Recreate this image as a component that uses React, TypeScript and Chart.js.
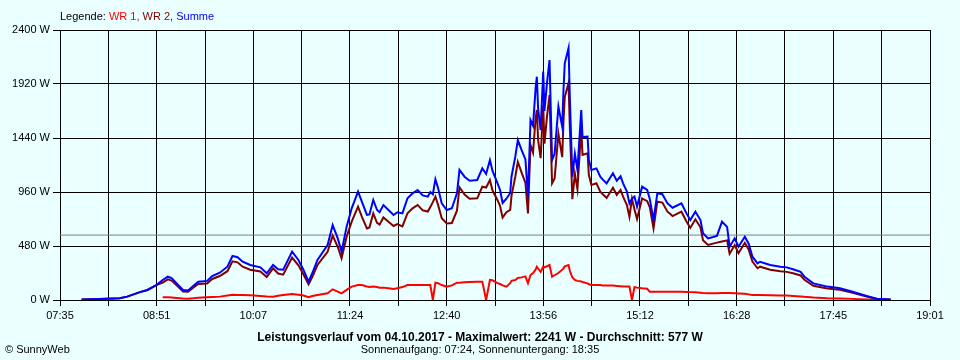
import { useEffect, useRef } from 'react';
import { Chart, registerables } from 'chart.js';

Chart.register(...registerables);

// Sample times (HH:MM)
const times = [
  '07:52', '08:06', '08:22', '08:28', '08:38', '08:44', '08:51', '08:56', '09:00', '09:03',
  '09:07', '09:12', '09:16', '09:20', '09:24', '09:31', '09:35', '09:41', '09:47', '09:51',
  '09:55', '09:59', '10:05', '10:13', '10:18', '10:23', '10:27', '10:31', '10:38', '10:43',
  '10:47', '10:51', '10:54', '10:58', '11:06', '11:10', '11:14', '11:17', '11:21', '11:25',
  '11:30', '11:33', '11:37', '11:39', '11:42', '11:45', '11:47', '11:50', '11:54', '11:58',
  '12:01', '12:05', '12:09', '12:13', '12:17', '12:21', '12:25', '12:27', '12:29', '12:31',
  '12:33', '12:36', '12:40', '12:44', '12:48', '12:50', '12:54', '12:58', '13:04', '13:08',
  '13:11', '13:14', '13:16', '13:20', '13:22', '13:24', '13:27', '13:30', '13:31', '13:34',
  '13:36', '13:39', '13:42', '13:44', '13:46', '13:48', '13:50', '13:51', '13:52', '13:54',
  '13:56', '13:57', '13:59', '14:01', '14:03', '14:05', '14:08', '14:11', '14:12', '14:13',
  '14:16', '14:17', '14:19', '14:21', '14:23', '14:26', '14:27', '14:31', '14:32', '14:34',
  '14:38', '14:41', '14:43', '14:46', '14:51', '14:54', '14:57', '14:59', '15:02', '15:04',
  '15:06', '15:08', '15:10', '15:14', '15:18', '15:20', '15:23', '15:26', '15:30', '15:34',
  '15:36', '15:38', '15:45', '15:49', '15:52', '15:56', '16:00', '16:02', '16:06', '16:10',
  '16:13', '16:17', '16:21', '16:23', '16:27', '16:30', '16:35', '16:38', '16:41', '16:45',
  '16:47', '16:55', '17:03', '17:08', '17:13', '17:19', '17:22', '17:29', '17:40', '17:50',
  '18:00', '18:11', '18:19', '18:30',
];

// WR 1 (W)
const wr1: (number | null)[] = [
  null, null, null, null, null, null, null, 24, 24, 22,
  18, 14, 12, 15, 20, 24, 26, 30, 40, 47,
  45, 44, 42, 36, 32, 30, 38, 45, 53, 47,
  40, 24, 35, 45, 60, 95, 75, 59, 90, 119,
  133, 133, 120, 115, 119, 115, 110, 110, 105, 98,
  105, 115, 133, 133, 133, 133, 133, 133, 0, 154,
  150, 133, 119, 130, 154, 154, 158, 160, 163, 163,
  0, 178, 175, 150, 142, 130, 119, 150, 170, 178,
  195, 201, 210, 150, 222, 240, 270, 296, 280, 250,
  296, 290, 300, 311, 207, 220, 240, 270, 280, 300,
  311, 260, 200, 178, 170, 165, 160, 148, 140, 133,
  133, 133, 130, 130, 128, 125, 122, 119, 119, 119,
  0, 115, 110, 104, 100, 74, 74, 74, 74, 74,
  74, 74, 74, 72, 70, 68, 65, 62, 59, 59,
  60, 62, 62, 62, 60, 58, 55, 50, 44, 44,
  44, 42, 40, 40, 36, 32, 28, 22, 16, 14,
  10, 5, 3, 2,
];

// WR 2 (W)
const wr2 = [
  5, 8, 15, 30, 70, 89, 133, 154, 183, 173,
  130, 75, 73, 109, 143, 146, 187, 213, 256, 344,
  335, 296, 269, 254, 205, 281, 235, 225, 377, 309,
  227, 139, 205, 311, 429, 572, 473, 371, 562, 696,
  830, 741, 636, 645, 770, 685, 670, 734, 695, 658,
  675, 655, 771, 815, 845, 797, 786, 827, 870, 919,
  850, 726, 681, 685, 794, 1002, 938, 900, 904, 1007,
  1000, 1066, 975, 887, 836, 732, 781, 801, 926, 1096,
  1227, 1132, 1040, 769, 1378, 1310, 1611, 1689, 1420, 1261,
  1734, 1390, 1630, 1822, 1037, 1080, 1479, 1270, 1587, 1804,
  1930, 1540, 896, 1122, 986, 1524, 1290, 1304, 1110, 1023,
  1037, 963, 940, 907, 998, 935, 978, 918, 844, 740,
  900, 805, 720, 903, 878, 826, 637, 874, 866, 785,
  766, 746, 785, 698, 641, 717, 646, 531, 489, 501,
  510, 520, 530, 412, 488, 416, 508, 450, 341, 282,
  296, 269, 256, 250, 237, 218, 179, 126, 103, 90,
  64, 31, 9, 3,
];

// Summe (W)
const summe = [
  5, 8, 15, 30, 70, 89, 133, 178, 207, 195,
  148, 89, 85, 124, 163, 170, 213, 243, 296, 391,
  380, 340, 311, 290, 237, 311, 273, 270, 430, 356,
  267, 163, 240, 356, 489, 667, 548, 430, 652, 815,
  963, 874, 756, 760, 889, 800, 780, 844, 800, 756,
  780, 770, 904, 948, 978, 930, 919, 960, 940, 1073,
  1000, 859, 800, 815, 948, 1156, 1096, 1060, 1067, 1170,
  1120, 1244, 1150, 1037, 978, 862, 900, 951, 1096, 1274,
  1422, 1333, 1250, 919, 1600, 1550, 1881, 1985, 1700, 1511,
  2030, 1680, 1930, 2133, 1244, 1300, 1719, 1540, 1867, 2104,
  2241, 1800, 1096, 1300, 1156, 1689, 1450, 1452, 1250, 1156,
  1170, 1096, 1070, 1037, 1126, 1060, 1100, 1037, 963, 859,
  900, 920, 830, 1007, 978, 900, 711, 948, 940, 859,
  840, 820, 859, 770, 711, 785, 711, 593, 548, 560,
  570, 696, 650, 474, 548, 474, 563, 500, 385, 326,
  340, 311, 296, 290, 273, 250, 207, 148, 119, 104,
  74, 36, 12, 5,
];

const average = 577;
const yMax = 2400;
const yStep = 480;
const xTickLabels = ['07:35', '08:51', '10:07', '11:24', '12:40', '13:56', '15:12', '16:28', '17:45', '19:01'];

const legendLabel = 'Legende: ';
const seriesNames = ['WR 1', 'WR 2', 'Summe'];
const seriesColors = ['#ff0000', '#800000', '#0000ff'];
const titleText = 'Leistungsverlauf vom 04.10.2017 - Maximalwert: 2241 W - Durchschnitt: 577 W';
const subtitleText = 'Sonnenaufgang: 07:24, Sonnenuntergang: 18:35';
const copyrightText = '\u00a9 SunnyWeb';

const FONT = "'Liberation Sans', Arial, sans-serif";

const toMin = (t: string) => {
  const [h, m] = t.split(':').map(Number);
  return h * 60 + m;
};

export default function App() {
  const ref = useRef<HTMLCanvasElement>(null);

  useEffect(() => {
    const xs = times.map(toMin);
    const xMin = toMin(xTickLabels[0]);
    const xMax = toMin(xTickLabels[xTickLabels.length - 1]);
    const nTicks = (xTickLabels.length - 1) * 2;
    const pts = (vals: (number | null)[]) => xs.map((x, i) => ({ x, y: vals[i] }));
    const line = { borderWidth: 2, pointRadius: 0, fill: false, tension: 0, borderJoinStyle: 'miter' };

    const chart = new Chart(ref.current as HTMLCanvasElement, {
      type: 'line',
      data: {
        datasets: [
          { label: seriesNames[2], data: pts(summe), borderColor: seriesColors[2], ...line },
          { label: seriesNames[1], data: pts(wr2), borderColor: seriesColors[1], ...line },
          { label: seriesNames[0], data: pts(wr1), borderColor: seriesColors[0], ...line },
          { label: 'Durchschnitt', data: [{ x: xMin, y: average }, { x: xMax, y: average }], borderColor: '#808080', borderWidth: 1, pointRadius: 0, fill: false },
        ],
      } as any,
      options: {
        animation: false,
        responsive: false,
        devicePixelRatio: 1,
        events: [],
        layout: { padding: { top: 30, right: 30, left: 0, bottom: 0 } },
        plugins: { legend: { display: false }, tooltip: { enabled: false }, title: { display: false } },
        scales: {
          x: {
            type: 'linear',
            min: xMin,
            max: xMax,
            afterFit: (s: any) => { s.height = 60; },
            afterBuildTicks: (s: any) => {
              s.ticks = Array.from({ length: nTicks + 1 }, (_, i) => ({ value: xMin + (i * (xMax - xMin)) / nTicks }));
            },
            ticks: {
              autoSkip: false,
              maxRotation: 0,
              minRotation: 0,
              padding: 3,
              color: '#000',
              font: { family: FONT, size: 11 },
              callback: (_v: any, i: number) => (i % 2 === 0 ? xTickLabels[i / 2] : ''),
            },
            grid: { color: '#000', lineWidth: 1, tickLength: 6, tickColor: '#000' },
            border: { color: '#000', width: 1 },
          },
          y: {
            min: 0,
            max: yMax,
            afterFit: (s: any) => { s.width = 60; },
            ticks: {
              stepSize: yStep,
              padding: 3,
              color: '#000',
              font: { family: FONT, size: 11 },
              callback: (v: any) => `${v} W`,
            },
            grid: { color: '#000', lineWidth: 1, tickLength: 7, tickColor: '#000' },
            border: { color: '#000', width: 1 },
          },
        },
      } as any,
    });
    return () => chart.destroy();
  }, []);

  return (
    <div style={{ position: 'fixed', left: 0, top: 0, width: 960, height: 360, background: '#eaffff', fontFamily: FONT, color: '#000', overflow: 'hidden' }}>
      <canvas ref={ref} width={960} height={360} style={{ position: 'absolute', left: 0, top: 0, width: 960, height: 360 }} />
      <div style={{ position: 'absolute', left: 60, top: 10, fontSize: 11, whiteSpace: 'nowrap' }}>
        {legendLabel}
        {seriesNames.map((n, i) => (
          <span key={n} style={{ color: seriesColors[i] }}>
            {n}
            {i < seriesNames.length - 1 ? ', ' : ''}
          </span>
        ))}
      </div>
      <div style={{ position: 'absolute', left: 0, width: 960, top: 330, textAlign: 'center', fontWeight: 'bold', fontSize: 12, whiteSpace: 'nowrap' }}>{titleText}</div>
      <div style={{ position: 'absolute', left: 0, width: 960, top: 343, textAlign: 'center', fontSize: 11, whiteSpace: 'nowrap' }}>{subtitleText}</div>
      <div style={{ position: 'absolute', left: 5, top: 343, fontSize: 11, whiteSpace: 'nowrap' }}>{copyrightText}</div>
    </div>
  );
}
